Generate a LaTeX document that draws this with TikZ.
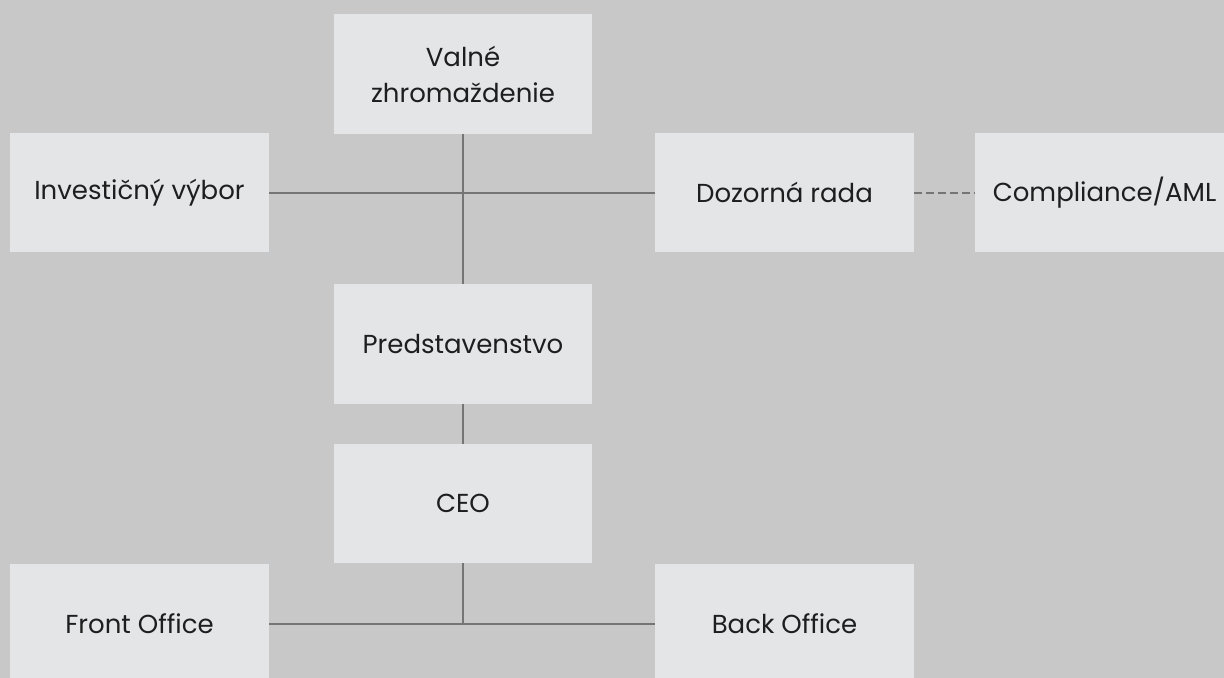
\documentclass[tikz,border=0pt]{standalone}
\usepackage{fontspec}
\setmainfont{Poppins}
\usepackage{tikz}
\usetikzlibrary{positioning}
\definecolor{cback}{HTML}{C8C8C8}
\definecolor{cbox}{HTML}{E4E5E7}
\definecolor{cline}{HTML}{757575}
\definecolor{ctext}{HTML}{1E1E1E}

\begin{document}
\begin{tikzpicture}[x=0.75pt, y=-0.75pt,
    orgbox/.style={fill=cbox, minimum width=194pt, minimum height=89.5pt,
      inner sep=0pt, align=center, text=ctext, font=\fontsize{19.5}{27}\selectfont},
    link/.style={draw=cline, line width=1.5pt},
    dashlink/.style={link, dash pattern=on 6pt off 3pt}]

  % background
  \fill [cback] (0, 0) rectangle (1224, 678);
  \useasboundingbox (0, 0) rectangle (1224, 678);

  % boxes
  \node [orgbox] (valne) at (463, 74) {Valné\\zhromaždenie};
  \node [orgbox] (invest) at (139.5, 192.5) {Investičný výbor};
  \node [orgbox] (dozor) at (784.5, 192.5) {Dozorná rada};
  \node [orgbox] (compl) at (1104.5, 192.5) {Compliance/AML};
  \node [orgbox] (pred) at (463, 344) {Predstavenstvo};
  \node [orgbox] (ceo) at (463, 503.5) {CEO};
  \node [orgbox] (front) at (139.5, 623.5) {Front Office};
  \node [orgbox] (back) at (784.5, 623.5) {Back Office};

  % links
  \draw [link] (valne) -- (pred);
  \draw [link] (invest) -- (dozor);
  \draw [dashlink] (dozor) -- (compl);
  \draw [link] (pred) -- (ceo);
  \coordinate (fork) at (ceo.south |- front.east);
  \draw [link] (ceo) -- (fork);
  \draw [link] (front) -- (back);
\end{tikzpicture}
\end{document}
